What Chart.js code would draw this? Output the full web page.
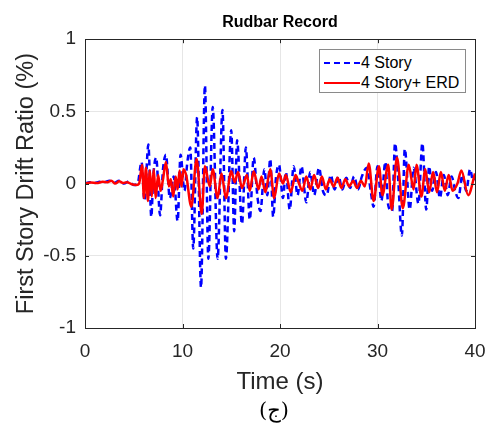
<!DOCTYPE html>
<html>
<head>
<meta charset="utf-8">
<script src="https://cdn.jsdelivr.net/npm/chart.js@4"></script>
<style>
html,body{margin:0;padding:0;background:#fff;}
#wrap{position:relative;width:489px;height:432px;overflow:hidden;}
#legend{position:absolute;left:319px;top:49px;width:147px;height:44px;border:1px solid #8a8a8a;background:#fff;box-sizing:border-box;font-family:"Liberation Sans",Arial,sans-serif;font-size:16px;color:#000;}
.row{position:absolute;left:0;height:20px;line-height:20px;white-space:nowrap;}
.row svg{position:absolute;left:3px;top:0;}
.row span{position:absolute;left:41px;top:0;}
#tag{position:absolute;left:0;width:548px;text-align:center;top:398px;font-family:"DejaVu Serif","DejaVu Sans",serif;font-size:21px;color:#000;}
</style>
</head>
<body>
<div id="wrap">
<canvas id="c" width="489" height="432"></canvas>
<div id="legend">
  <div class="row" style="top:3px;"><svg width="38" height="20"><line x1="1" y1="10" x2="37" y2="10" stroke="#0000ff" stroke-width="2" stroke-dasharray="6,4"/></svg><span id="l1"></span></div>
  <div class="row" style="top:23px;"><svg width="38" height="20"><line x1="1" y1="10" x2="37" y2="10" stroke="#ff0000" stroke-width="2"/></svg><span id="l2"></span></div>
</div>
<div id="tag">(ج)</div>
</div>
<script>
// ---- data ----
const chartTitle = 'Rudbar Record';
const xTitle = 'Time (s)';
const yTitle = 'First Story Drift Ratio (%)';
const seriesNames = ['4 Story', '4 Story+ ERD'];
const xTicks = [0, 10, 20, 30, 40];
const yTicks = [-1, -0.5, 0, 0.5, 1];

// 4 Story (bare frame) – time (s) of turning points and drift ratio (%)
const timeBare = [0,0.5,1,1.5,2,2.5,3,3.5,4,4.5,
  5,5.4,5.8,6.1,6.5,6.8,7.0,7.3,7.7,8.0,
  8.3,8.7,9.1,9.5,9.8,10.2,10.5,10.8,11.1,11.5,
  11.9,12.3,12.65,13.1,13.6,14.1,14.45,15.0,15.3,15.6,
  16.1,16.5,16.9,17.3,17.7,18.0,18.4,18.7,19.0,19.3,
  19.6,19.9,20.3,20.6,21.0,21.4,21.8,22.2,22.7,23.1,
  23.5,24.0,24.4,24.8,25.2,25.6,26.0,26.4,26.8,27.2,
  27.6,28.0,28.4,28.9,29.3,29.6,30.0,30.4,30.8,31.1,
  31.5,31.8,32.1,32.5,32.8,33.3,33.7,34.2,34.6,35.0,
  35.3,35.6,36.0,36.4,36.8,37.2,37.6,38.0,38.3,38.7,
  39.1,39.5,39.8,40];
const driftBare = [0,0.01,0.005,0.012,0.01,0.02,0.005,0.02,0,0.015,
  -0.01,0,0.15,-0.12,0.27,-0.23,0.05,0.18,-0.22,0.1,
  0.2,-0.1,0.05,-0.26,0.2,-0.05,0.15,0.25,-0.45,0.46,
  -0.72,0.68,-0.52,0.53,-0.52,0.51,-0.52,0.37,-0.33,0.3,
  -0.28,0.25,-0.25,0.18,-0.1,-0.19,0.1,-0.08,0.17,-0.23,
  0.05,0.13,-0.1,0.08,-0.18,0.12,-0.08,0.12,-0.13,0.08,
  -0.08,0.11,-0.05,-0.08,0.06,-0.04,0.05,-0.04,0.04,-0.03,
  0.05,-0.04,0.05,0.11,-0.05,-0.16,0.12,-0.12,0.15,-0.15,
  -0.19,0.28,0.05,-0.36,0.24,-0.18,0.11,-0.14,0.28,-0.18,
  0.12,-0.05,0.08,-0.1,0.06,-0.08,0.05,-0.06,-0.1,0.06,
  -0.05,0.1,0.02,0.05];

// 4 Story + ERD
const timeERD = [0,0.6,1.2,1.8,2.3,2.7,3.1,3.5,3.9,4.3,
  4.8,5.3,5.55,5.85,6.05,6.25,6.45,6.65,6.85,7.05,
  7.25,7.5,7.75,8.0,8.3,8.6,8.8,9.05,9.3,9.5,
  9.7,9.9,10.1,10.4,10.9,11.45,11.97,12.3,12.8,13.1,
  13.6,14.0,14.45,15.0,15.35,15.7,16.1,16.6,16.9,17.3,
  17.8,18.1,18.5,19.0,19.4,19.9,20.3,20.6,21.1,21.6,
  21.9,22.3,22.7,23.1,23.5,23.9,24.3,24.7,25.1,25.5,
  25.9,26.3,26.7,27.1,27.5,27.9,28.3,28.7,29.1,29.6,
  30.15,30.5,31.1,31.45,32.0,32.6,33.2,33.7,34.0,34.5,
  34.9,35.3,35.7,36.1,36.5,36.9,37.3,37.7,38.2,38.6,
  39.3,40];
const driftERD = [0,0.008,0.004,0.012,0.01,0.02,0,0.016,0.004,0.01,
  -0.005,-0.01,0,0.13,-0.1,0.11,-0.12,0.09,-0.09,0.1,
  -0.1,0.06,-0.05,0.03,0.15,-0.02,0.03,-0.09,0.05,-0.04,
  0.09,-0.02,0.1,0.05,-0.16,0.17,-0.21,0.12,-0.02,0.1,
  -0.1,0.07,-0.1,0.085,0.01,0.08,-0.03,0.06,-0.05,0.085,
  -0.04,0.05,-0.06,0.1,-0.1,0.07,0,0.06,-0.06,0.06,
  0.01,-0.05,0.05,-0.04,0.06,-0.03,0.05,-0.04,0.03,-0.02,
  0.04,-0.03,0.03,-0.02,0.02,-0.03,0.02,-0.02,0.14,-0.12,
  0.12,-0.08,0.13,-0.18,0.18,-0.17,0.13,-0.04,0.13,-0.09,
  0.1,-0.06,0.08,-0.06,0.08,-0.05,0.06,-0.05,0.0,0.09,
  -0.08,0.07];

// ---- build ----
const toPts = (t, v) => t.map((x, i) => ({x: x, y: v[i]}));
document.getElementById('l1').textContent = seriesNames[0];
document.getElementById('l2').textContent = seriesNames[1];

const FONT = '"Liberation Sans", Arial, sans-serif';
const AX = '#262626';

const boxPlugin = {
  id: 'box',
  afterDatasetsDraw(chart) {
    const {ctx, chartArea: a, scales: {x, y}} = chart;
    ctx.save();
    ctx.strokeStyle = AX;
    ctx.lineWidth = 1;
    ctx.strokeRect(Math.round(a.left) + 0.5, Math.round(a.top) + 0.5, Math.round(a.right - a.left), Math.round(a.bottom - a.top));
    const L = 4;
    ctx.beginPath();
    xTicks.forEach(v => {
      const px = Math.round(x.getPixelForValue(v)) + 0.5;
      ctx.moveTo(px, a.bottom); ctx.lineTo(px, a.bottom - L);
      ctx.moveTo(px, a.top); ctx.lineTo(px, a.top + L);
    });
    yTicks.forEach(v => {
      const py = Math.round(y.getPixelForValue(v)) + 0.5;
      ctx.moveTo(a.left, py); ctx.lineTo(a.left + L, py);
      ctx.moveTo(a.right, py); ctx.lineTo(a.right - L, py);
    });
    ctx.stroke();
    ctx.restore();
  }
};

new Chart(document.getElementById('c'), {
  type: 'line',
  data: {
    datasets: [
      {label: seriesNames[1], data: toPts(timeERD, driftERD), borderColor: '#ff0000', borderWidth: 2.5,
       pointRadius: 0, cubicInterpolationMode: 'monotone', fill: false, order: 1},
      {label: seriesNames[0], data: toPts(timeBare, driftBare), borderColor: '#0000ff', borderWidth: 2.5,
       borderDash: [6, 4], pointRadius: 0, cubicInterpolationMode: 'monotone', fill: false, order: 2}
    ]
  },
  options: {
    responsive: false,
    animation: false,
    devicePixelRatio: 1,
    layout: {padding: {left: 0, right: 14, top: 0, bottom: 35}},
    plugins: {
      legend: {display: false},
      tooltip: {enabled: false},
      title: {display: true, text: chartTitle, color: '#000', fullSize: false,
              font: {family: FONT, size: 16, weight: 'bold'}, padding: {top: 13, bottom: 7}}
    },
    scales: {
      x: {
        type: 'linear', min: 0, max: 40,
        afterBuildTicks: s => { s.ticks = xTicks.map(v => ({value: v})); },
        ticks: {color: AX, font: {family: FONT, size: 19}, padding: 12, maxRotation: 0,
                callback: v => String(v)},
        grid: {color: '#e6e6e6', drawTicks: false},
        border: {color: AX},
        title: {display: true, text: xTitle, color: AX, font: {family: FONT, size: 24}, padding: {top: 0, bottom: 0}},
        afterFit: s => { s.height = 69; s.paddingLeft = 0; s.paddingRight = 0; }
      },
      y: {
        type: 'linear', min: -1, max: 1,
        afterBuildTicks: s => { s.ticks = yTicks.map(v => ({value: v})); },
        ticks: {color: AX, font: {family: FONT, size: 19}, padding: 9,
                callback: v => String(v)},
        grid: {color: '#e6e6e6', drawTicks: false},
        border: {color: AX},
        title: {display: true, text: yTitle, color: AX, font: {family: FONT, size: 23.5}, padding: {top: 12, bottom: 0}},
        afterFit: s => { s.width = 85; s.paddingTop = 0; s.paddingBottom = 0; }
      }
    }
  },
  plugins: [boxPlugin]
});
</script>
</body>
</html>
